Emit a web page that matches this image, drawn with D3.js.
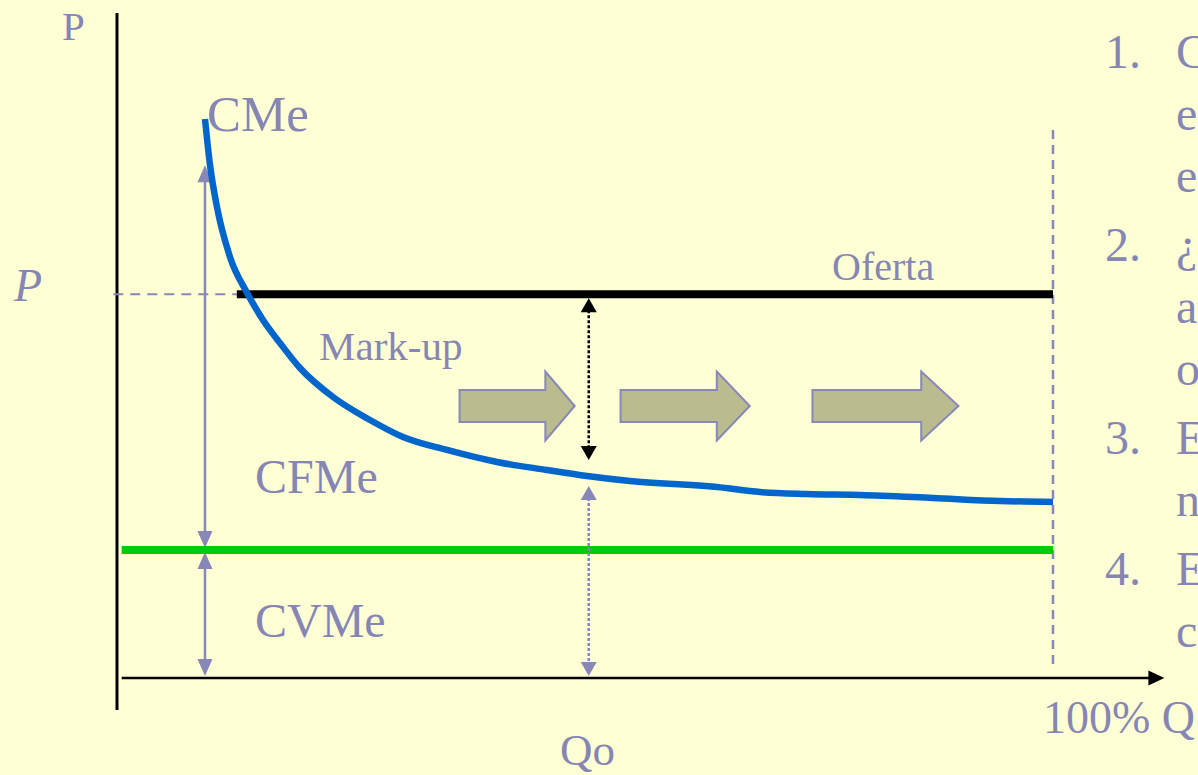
<!DOCTYPE html>
<html>
<head>
<meta charset="utf-8">
<script src="https://cdn.jsdelivr.net/npm/d3@7"></script>
<style>
html,body{margin:0;padding:0;background:#FFFFD5;overflow:hidden;}
text{font-family:"Liberation Serif","Times New Roman",serif;}
</style>
</head>
<body>
<svg id="chart" width="1198" height="775"></svg>
<script>
// ---------- DATA ----------
// Q as % of capacity, cost values on an arbitrary 0-100 price scale
const cmeQ = [9.4, 9.94, 10.68, 12.07, 13.9, 15.6, 17.41, 19.55, 23.08, 27.03, 30.56, 35.26, 40.6, 45.94, 50.21, 54.81, 64.1, 68.7, 73.72, 79.38, 87.18, 94.34, 100];
const cmeValue = [84.06, 77.1, 70.83, 63.31, 57.9, 53.83, 50.38, 46.62, 42.26, 38.8, 36.24, 34.29, 32.48, 31.28, 30.38, 29.62, 28.72, 27.97, 27.67, 27.52, 27.07, 26.62, 26.47];
const priceP = 57.7;          // Oferta / price level
const cvmeValue = 19.25;      // average variable cost (flat)
const qo = 50.4;              // Qo
const qMax = 100;             // 100% Q
const ofertaStartQ = 12.8;
const shiftArrowStart = [36.6, 53.8, 74.3];
const shiftArrowEnd = [48.9, 67.6, 89.9];
const shiftArrowLevel = 40.9;
const listNumbers = ["1.", "2.", "3.", "4."];
const listLines = [["C", "e", "e"], ["¿", "a", "o"], ["E", "n"], ["E", "c"]];

// ---------- SCALES ----------
const x = d3.scaleLinear().domain([0, 100]).range([117, 1053]);
const y = d3.scaleLinear().domain([0, 100]).range([678, 13]);

const svg = d3.select("#chart");
const TXT = "#8686B4";
const GREY = "#8888B8";

svg.append("rect").attr("width", 1198).attr("height", 775).attr("fill", "#FFFFD5");

// helper: arrowhead triangle
function head(g, px, py, dir, len, half, color) {
  g.append("path")
    .attr("d", `M${px},${py} L${px - half},${py - dir * len} L${px + half},${py - dir * len} Z`)
    .attr("fill", color);
}

// ---------- AXES ----------
svg.append("line")
  .attr("x1", x(0)).attr("x2", x(0))
  .attr("y1", y(100)).attr("y2", y(-4.8))
  .attr("stroke", "#000").attr("stroke-width", 3);
svg.append("line")
  .attr("x1", x(0.5)).attr("x2", x(111.9) - 12)
  .attr("y1", y(0)).attr("y2", y(0))
  .attr("stroke", "#000").attr("stroke-width", 2.5);
svg.append("path")
  .attr("d", `M${x(111.9)},${y(0)} L${x(111.9) - 16},${y(0) - 7.5} L${x(111.9) - 16},${y(0) + 7.5} Z`)
  .attr("fill", "#000");

// ---------- DASHED GUIDES ----------
svg.append("line")
  .attr("x1", x(-0.4)).attr("x2", x(ofertaStartQ))
  .attr("y1", y(priceP)).attr("y2", y(priceP))
  .attr("stroke", GREY).attr("stroke-width", 2).attr("stroke-dasharray", "10,7");
svg.append("line")
  .attr("x1", x(qMax)).attr("x2", x(qMax))
  .attr("y1", y(82.4)).attr("y2", y(1.4))
  .attr("stroke", GREY).attr("stroke-width", 2.5).attr("stroke-dasharray", "9,6");

// ---------- VERTICAL CFMe / CVMe ARROWS at left ----------
const ax = x(cmeQ[0]);
const gA = svg.append("g");
gA.append("line").attr("x1", ax).attr("x2", ax)
  .attr("y1", y(77.1) + 14).attr("y2", y(cvmeValue) - 16)
  .attr("stroke", GREY).attr("stroke-width", 2.5);
head(gA, ax, y(77.1), -1, 17, 7.5, GREY);
head(gA, ax, y(cvmeValue) - 2, 1, 17, 7.5, GREY);
gA.append("line").attr("x1", ax).attr("x2", ax)
  .attr("y1", y(cvmeValue) + 16).attr("y2", y(0) - 16)
  .attr("stroke", GREY).attr("stroke-width", 2.5);
head(gA, ax, y(cvmeValue) + 2, -1, 17, 7.5, GREY);
head(gA, ax, y(0) - 2, 1, 17, 7.5, GREY);

// ---------- CVMe (green) ----------
svg.append("line")
  .attr("x1", x(0.5)).attr("x2", x(qMax))
  .attr("y1", y(cvmeValue)).attr("y2", y(cvmeValue))
  .attr("stroke", "#00CC00").attr("stroke-width", 8);

// ---------- Oferta (black) ----------
svg.append("line")
  .attr("x1", x(ofertaStartQ)).attr("x2", x(qMax))
  .attr("y1", y(priceP)).attr("y2", y(priceP))
  .attr("stroke", "#000").attr("stroke-width", 8);

// ---------- Qo arrows ----------
const qx = x(qo);
const cmeAtQo = 30.38;
const gQ = svg.append("g");
gQ.append("line").attr("x1", qx).attr("x2", qx)
  .attr("y1", y(priceP) + 16).attr("y2", y(cmeAtQo) - 26)
  .attr("stroke", "#000").attr("stroke-width", 2.5).attr("stroke-dasharray", "3,2");
head(gQ, qx, y(priceP) + 4, -1, 14, 8, "#000");
head(gQ, qx, y(cmeAtQo) - 16, 1, 14, 8, "#000");
gQ.append("line").attr("x1", qx).attr("x2", qx)
  .attr("y1", y(cmeAtQo) + 22).attr("y2", y(0) - 14)
  .attr("stroke", GREY).attr("stroke-width", 2.5).attr("stroke-dasharray", "3,2");
head(gQ, qx, y(cmeAtQo) + 10, -1, 14, 8, GREY);
head(gQ, qx, y(0) - 2, 1, 14, 8, GREY);

// ---------- shift block arrows ----------
shiftArrowStart.forEach((s, i) => {
  const x0 = x(s), x1 = x(shiftArrowEnd[i]);
  const yc = y(shiftArrowLevel);
  const hl = (x1 - x0) * 0.255;
  const bh = 16, hh = 34.5;
  const pts = [[x0, yc - bh], [x1 - hl, yc - bh], [x1 - hl, yc - hh], [x1, yc],
               [x1 - hl, yc + hh], [x1 - hl, yc + bh], [x0, yc + bh]];
  svg.append("path")
    .attr("d", "M" + pts.map(p => p.join(",")).join("L") + "Z")
    .attr("fill", "#BABC8F").attr("stroke", GREY).attr("stroke-width", 2);
});

// ---------- CMe curve ----------
const line = d3.line().x(d => x(d[0])).y(d => y(d[1])).curve(d3.curveMonotoneX);
svg.append("path")
  .datum(cmeQ.map((q, i) => [q, cmeValue[i]]))
  .attr("d", line)
  .attr("fill", "none").attr("stroke", "#0066CC").attr("stroke-width", 6.5);

// ---------- LABELS ----------
function label(t, px, py, size, italic) {
  svg.append("text").attr("x", px).attr("y", py).text(t)
    .attr("fill", TXT).attr("font-size", size)
    .attr("font-style", italic ? "italic" : "normal");
}
label("P", 62, 40, 41);
label("P", 14, 301, 46, true);
label("CMe", 207, 131, 51);
label("Mark-up", 319, 360, 41);
label("Oferta", 832, 280, 40);
label("CFMe", 255, 493, 48);
label("CVMe", 255, 637, 48);
label("Qo", 560, 765, 45);
label("100% Q", 1043, 733, 46);

// ---------- right-hand list ----------
let base = 68;
listNumbers.forEach((n, i) => {
  label(n, 1105, base, 48);
  listLines[i].forEach((l, j) => {
    label(l, 1176, base + j * 62, 48);
  });
  base += listLines[i].length * 62 + 7;
});
</script>
</body>
</html>
